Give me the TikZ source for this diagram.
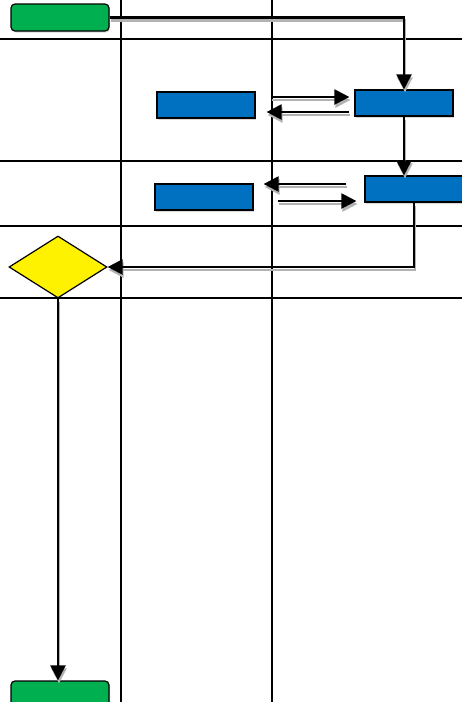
\documentclass[tikz,border=0pt]{standalone}
\usetikzlibrary{arrows.meta, calc, shapes.geometric, shadows}
\definecolor{termgreen}{HTML}{00B050}
\definecolor{taskblue}{HTML}{0070C0}
\begin{document}
\begin{tikzpicture}[
    x=1pt, y=-1pt, >={Triangle[length=15pt, width=15pt]},
    lane/.style    ={line width=2pt},
    flow/.style    ={->, draw=black, line width=2.2pt, preaction={draw=gray!60, line width=2.6pt, transform canvas={xshift=1pt, yshift=-3pt}}},
    base_box/.style={draw=black, line width=1.2pt, inner sep=0pt, drop shadow={shadow xshift=1pt, shadow yshift=-1.5pt, fill=gray!60}},
    startend/.style={base_box, fill=termgreen, rounded corners=4pt, minimum width=98pt, minimum height=27pt},
    task/.style    ={base_box, fill=taskblue, minimum width=98pt, minimum height=26pt},
    decision/.style={diamond, draw=black, line width=1.2pt, fill=yellow, inner sep=0pt, minimum width=98pt, minimum height=62pt}
]
\useasboundingbox (0,0) rectangle (462,702);
\clip (0,0) rectangle (462,702);

% Swimlanes
\foreach \y in {39,161,226,298}
    \draw[lane] (0,\y) -- (462,\y);
\foreach \x in {121,272}
    \draw[lane] (\x,0) -- (\x,702);

% Steps
\node[startend] (start)  at (60,17.5)  {};
\node[task]     (task1)  at (206,105)  {};
\node[task]     (task2)  at (404,103)  {};
\node[task]     (task3)  at (204,197)  {};
\node[task]     (task4)  at (414,189)  {};
\node[decision] (check)  at (58,267)   {};
\node[startend] (finish) at (60,694.5) {};

% Main flow
\draw[flow] (start.east) -| (task2.north);
\draw[flow] (task2.south) -- (task2.south |- task4.north);
\draw[flow] (task4.south) |- (check.east);
\draw[flow] (check.south) -- (check.south |- finish.north);

% Exchanges
\draw[flow] ($(task1.east)+(15,-8)$) -- ($(task2.west)+(-5,-6)$);
\draw[flow] ($(task2.west)+(-5,9)$) -- ($(task1.east)+(11,7)$);
\draw[flow] ($(task4.west)+(-18,-5)$) -- ($(task3.east)+(10,-13)$);
\draw[flow] ($(task3.east)+(24,4)$) -- ($(task4.west)+(-8,12)$);

\end{tikzpicture}
\end{document}
